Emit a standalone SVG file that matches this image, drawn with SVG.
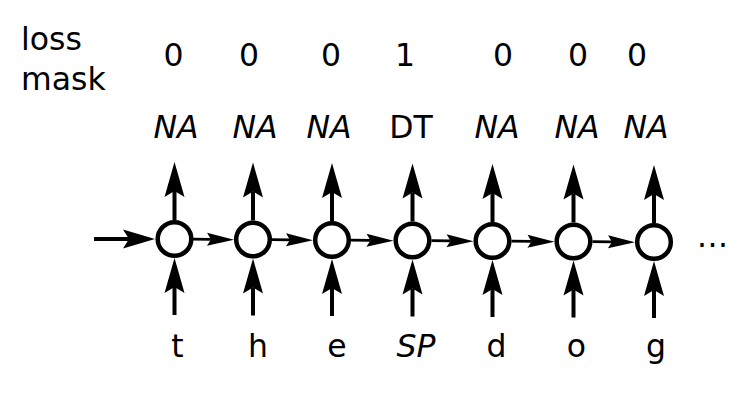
<svg xmlns="http://www.w3.org/2000/svg" width="750" height="409" viewBox="0 0 750 409">
<style>
text{font-family:"DejaVu Sans","Liberation Sans",sans-serif;font-size:31.5px;fill:#000}
.c{text-anchor:middle}
.i{font-style:italic}
.node{fill:#fff;stroke:#000;stroke-width:4.5}
.v{stroke:#000;stroke-width:4;fill:none}
.h1{stroke:#000;stroke-width:4;fill:none}
.h{stroke:#000;stroke-width:2.8;fill:none}
</style>
<defs>
<marker id="big" markerUnits="userSpaceOnUse" orient="auto" refX="0" refY="0" markerWidth="40" markerHeight="24" overflow="visible">
<path d="M29,0 L-6,-10 L0,0 L-6,10 Z" fill="#000"/>
</marker>
<marker id="med" markerUnits="userSpaceOnUse" orient="auto" refX="0" refY="0" markerWidth="40" markerHeight="24" overflow="visible">
<path d="M26,0 L-6,-9.5 L0,0 L-6,9.5 Z" fill="#000"/>
</marker>
<marker id="small" markerUnits="userSpaceOnUse" orient="auto" refX="0" refY="0" markerWidth="30" markerHeight="16" overflow="visible">
<path d="M23,0 L-4,-6.5 L0,0 L-4,6.5 Z" fill="#000"/>
</marker>
</defs>
<g id="labels">
<text x="21" y="50">loss</text>
<text x="21" y="90">mask</text>
</g>
<g id="mask-values">
<text class="c" x="173.5" y="66">0</text>
<text class="c" x="249" y="66">0</text>
<text class="c" x="331" y="66">0</text>
<text class="c" x="405" y="66">1</text>
<text class="c" x="503" y="66">0</text>
<text class="c" x="578" y="66">0</text>
<text class="c" x="637" y="66">0</text>
</g>
<g id="outputs">
<text class="c i" x="176" y="138">NA</text>
<text class="c i" x="255" y="138">NA</text>
<text class="c i" x="329" y="138">NA</text>
<text class="c" x="411" y="138">DT</text>
<text class="c i" x="497" y="138">NA</text>
<text class="c i" x="577" y="138">NA</text>
<text class="c i" x="646" y="138">NA</text>
</g>
<g id="inputs">
<text class="c" x="177.5" y="357">t</text>
<text class="c" x="258" y="357">h</text>
<text class="c" x="337" y="357">e</text>
<text class="c i" x="416" y="357">SP</text>
<text class="c" x="496.5" y="357">d</text>
<text class="c" x="576.5" y="357">o</text>
<text class="c" x="656" y="357">g</text>
</g>
<g id="connectors">
<line class="h1" x1="94" y1="239" x2="129" y2="239" marker-end="url(#med)"/>
<line class="h" x1="193" y1="239.2" x2="211" y2="239.4" marker-end="url(#small)"/>
<line class="h" x1="272" y1="239.7" x2="290" y2="239.9" marker-end="url(#small)"/>
<line class="h" x1="351" y1="240.2" x2="370.5" y2="240.4" marker-end="url(#small)"/>
<line class="h" x1="431.5" y1="240.7" x2="450.5" y2="240.9" marker-end="url(#small)"/>
<line class="h" x1="511.5" y1="241.2" x2="531.5" y2="241.4" marker-end="url(#small)"/>
<line class="h" x1="592.5" y1="241.7" x2="612" y2="241.9" marker-end="url(#small)"/>

<line class="v" x1="174.5" y1="220" x2="174.5" y2="191" marker-end="url(#big)"/>
<line class="v" x1="253" y1="220.5" x2="253" y2="191.5" marker-end="url(#big)"/>
<line class="v" x1="332" y1="221" x2="332" y2="192" marker-end="url(#big)"/>
<line class="v" x1="412.5" y1="221.5" x2="412.5" y2="192.5" marker-end="url(#big)"/>
<line class="v" x1="492.5" y1="222" x2="492.5" y2="193" marker-end="url(#big)"/>
<line class="v" x1="573.5" y1="222.5" x2="573.5" y2="193.5" marker-end="url(#big)"/>
<line class="v" x1="654" y1="223" x2="654" y2="194" marker-end="url(#big)"/>

<line class="v" x1="174.5" y1="315" x2="174.5" y2="287" marker-end="url(#big)"/>
<line class="v" x1="253" y1="315.5" x2="253" y2="287.5" marker-end="url(#big)"/>
<line class="v" x1="332" y1="316" x2="332" y2="288" marker-end="url(#big)"/>
<line class="v" x1="412.5" y1="316.5" x2="412.5" y2="288.5" marker-end="url(#big)"/>
<line class="v" x1="492.5" y1="317" x2="492.5" y2="289" marker-end="url(#big)"/>
<line class="v" x1="573.5" y1="317.5" x2="573.5" y2="289.5" marker-end="url(#big)"/>
<line class="v" x1="654" y1="318" x2="654" y2="290" marker-end="url(#big)"/>
</g>
<g id="n1"><circle class="node" cx="174.5" cy="239" r="16.8"/></g>
<g id="n2"><circle class="node" cx="253" cy="239.5" r="16.8"/></g>
<g id="n3"><circle class="node" cx="332" cy="240" r="16.8"/></g>
<g id="n4"><circle class="node" cx="412.5" cy="240.5" r="16.8"/></g>
<g id="n5"><circle class="node" cx="492.5" cy="241" r="16.8"/></g>
<g id="n6"><circle class="node" cx="573.5" cy="241.5" r="16.8"/></g>
<g id="n7"><circle class="node" cx="654" cy="242" r="16.8"/></g>
<g id="ellipsis"><text x="697" y="247" style="letter-spacing:0.5px">...</text></g>
</svg>
